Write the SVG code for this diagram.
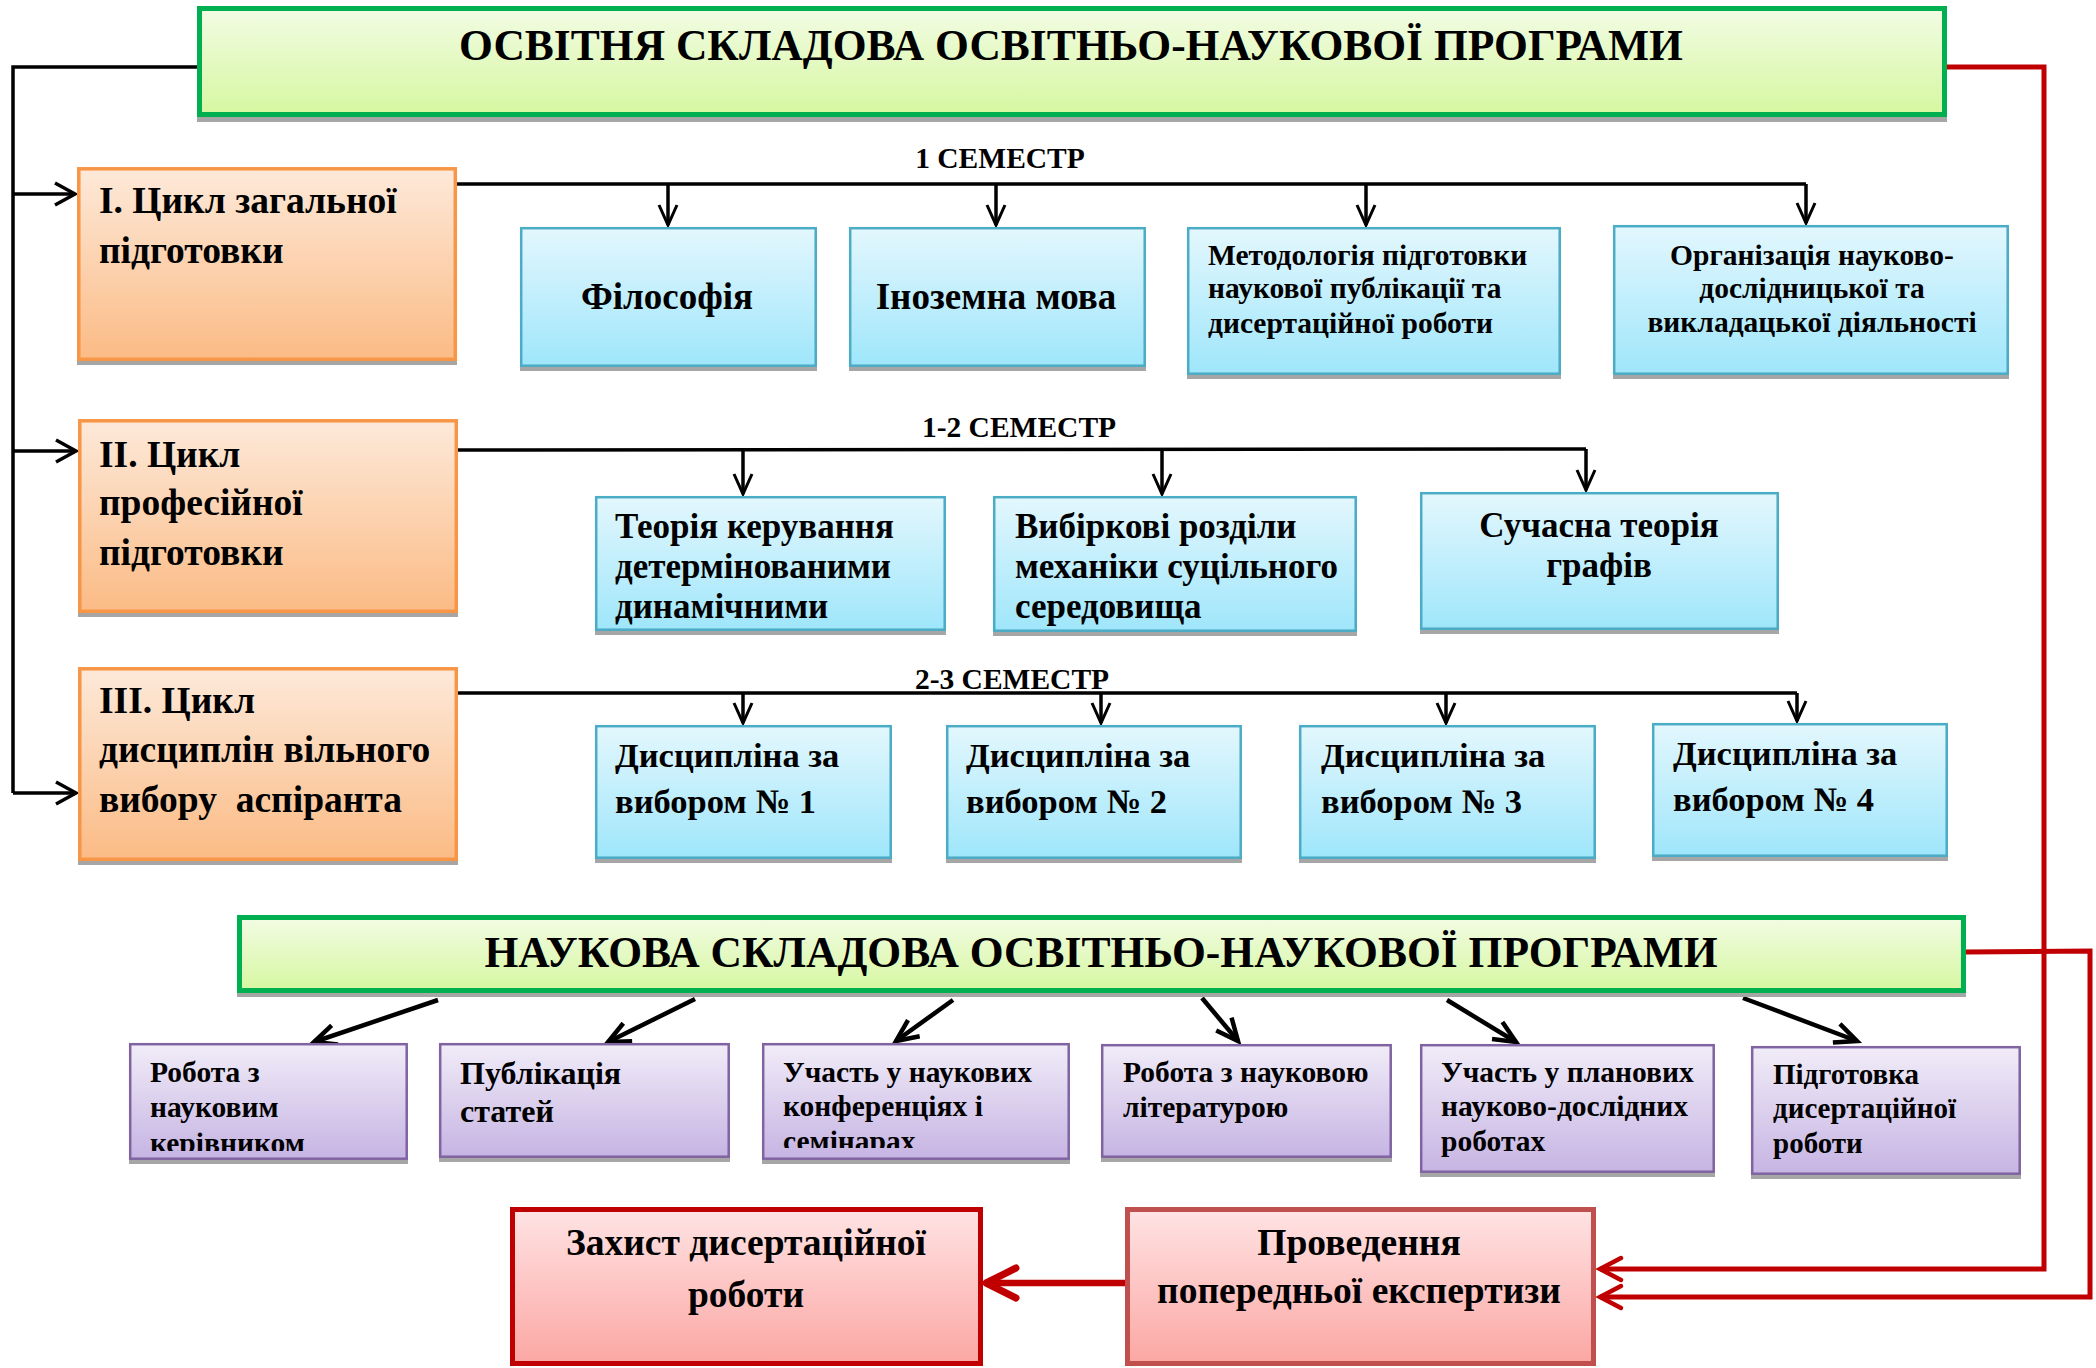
<svg xmlns="http://www.w3.org/2000/svg" width="2096" height="1368" viewBox="0 0 2096 1368">
<style>
.t{font-family:"Liberation Serif","Times New Roman",serif;font-weight:bold;fill:#000}
.sh{fill:#a6a6a6}
.g{fill:url(#gGreen);stroke:#00b050;stroke-width:5}
.o{fill:url(#gOrange);stroke:#f79646;stroke-width:3.5}
.b{fill:url(#gBlue);stroke:#4bacc6;stroke-width:2.5}
.p{fill:url(#gPurple);stroke:#8064a2;stroke-width:2.5}
.r1{fill:url(#gRed);stroke:#c00000;stroke-width:5}
.r2{fill:url(#gRed);stroke:#c0504d;stroke-width:5}
.ln{fill:none;stroke:#000;stroke-width:3.5}
.dg{fill:none;stroke:#000;stroke-width:4.5}
.rl{fill:none;stroke:#c00000;stroke-width:5}
.rt{fill:none;stroke:#c00000;stroke-width:6.5}
.fc{font-size:37.5px}
.fb1{font-size:29.5px}
.fb2{font-size:35px}
.fb3{font-size:34.5px}
.fp{font-size:29.5px}
.fs{font-size:29.5px}
.ft{font-size:43.5px}
.fr{font-size:37.5px}
</style>
<defs>
<linearGradient id="gGreen" x1="0" y1="0" x2="0" y2="1"><stop offset="0" stop-color="#f2fce4"/><stop offset="1" stop-color="#d6f7a0"/></linearGradient>
<linearGradient id="gOrange" x1="0" y1="0" x2="0" y2="1"><stop offset="0" stop-color="#fde9d9"/><stop offset="1" stop-color="#fbbb85"/></linearGradient>
<linearGradient id="gBlue" x1="0" y1="0" x2="0" y2="1"><stop offset="0" stop-color="#e3f7fd"/><stop offset="1" stop-color="#9fe6fb"/></linearGradient>
<linearGradient id="gPurple" x1="0" y1="0" x2="0" y2="1"><stop offset="0" stop-color="#f1ecf8"/><stop offset="1" stop-color="#c6b4e3"/></linearGradient>
<linearGradient id="gRed" x1="0" y1="0" x2="0" y2="1"><stop offset="0" stop-color="#ffe3e4"/><stop offset="1" stop-color="#fba7a3"/></linearGradient>
<marker id="aB" markerUnits="userSpaceOnUse" viewBox="-40 -20 44 40" markerWidth="44" markerHeight="40" refX="0" refY="0" orient="auto" overflow="visible"><path d="M-20,-9 L0,0 L-20,9" fill="none" stroke="#000" stroke-width="3"/></marker>
<marker id="aL" markerUnits="userSpaceOnUse" viewBox="-40 -20 44 40" markerWidth="44" markerHeight="40" refX="0" refY="0" orient="auto" overflow="visible"><path d="M-20,-11 L0,0 L-20,11" fill="none" stroke="#000" stroke-width="3.5"/></marker>
<marker id="aD" markerUnits="userSpaceOnUse" viewBox="-40 -20 44 40" markerWidth="44" markerHeight="40" refX="0" refY="0" orient="auto" overflow="visible"><path d="M-22,-10 L0,0 L-22,10" fill="none" stroke="#000" stroke-width="4.5"/></marker>
<marker id="aR" markerUnits="userSpaceOnUse" viewBox="-40 -20 44 40" markerWidth="44" markerHeight="40" refX="0" refY="0" orient="auto" overflow="visible"><path d="M-21,-11 L0,0 L-21,11" fill="none" stroke="#c00000" stroke-width="4.5" stroke-linecap="round"/></marker>
<marker id="aRT" markerUnits="userSpaceOnUse" viewBox="-40 -20 44 40" markerWidth="44" markerHeight="40" refX="0" refY="0" orient="auto" overflow="visible"><path d="M-30,-15 L0,0 L-30,15" fill="none" stroke="#c00000" stroke-width="7" stroke-linecap="round" stroke-linejoin="round"/></marker>
<clipPath id="cP1"><rect x="129" y="1043" width="279" height="108"/></clipPath>
<clipPath id="cP3"><rect x="762" y="1043" width="308" height="105"/></clipPath>
</defs>

<g id="connectors">
<polyline class="ln" points="197,67 13,67 13,793"/>
<line class="ln" x1="13" y1="194" x2="75" y2="194" marker-end="url(#aL)"/>
<line class="ln" x1="13" y1="451" x2="76" y2="451" marker-end="url(#aL)"/>
<line class="ln" x1="13" y1="793" x2="76" y2="793" marker-end="url(#aL)"/>
<polyline class="ln" points="457,184 1806,184"/>
<line class="ln" x1="668" y1="184" x2="668" y2="225" marker-end="url(#aB)"/>
<line class="ln" x1="996" y1="184" x2="996" y2="225" marker-end="url(#aB)"/>
<line class="ln" x1="1366" y1="184" x2="1366" y2="225" marker-end="url(#aB)"/>
<line class="ln" x1="1806" y1="184" x2="1806" y2="223" marker-end="url(#aB)"/>
<polyline class="ln" points="458,450 1586,449"/>
<line class="ln" x1="743" y1="450" x2="743" y2="494" marker-end="url(#aB)"/>
<line class="ln" x1="1162" y1="449" x2="1162" y2="494" marker-end="url(#aB)"/>
<line class="ln" x1="1586" y1="449" x2="1586" y2="490" marker-end="url(#aB)"/>
<polyline class="ln" points="458,693 1797,693"/>
<line class="ln" x1="743" y1="693" x2="743" y2="723" marker-end="url(#aB)"/>
<line class="ln" x1="1101" y1="693" x2="1101" y2="723" marker-end="url(#aB)"/>
<line class="ln" x1="1446" y1="693" x2="1446" y2="723" marker-end="url(#aB)"/>
<line class="ln" x1="1797" y1="693" x2="1797" y2="721" marker-end="url(#aB)"/>
<line class="dg" x1="438" y1="1000" x2="314" y2="1042" marker-end="url(#aD)"/>
<line class="dg" x1="695" y1="999" x2="608" y2="1042" marker-end="url(#aD)"/>
<line class="dg" x1="953" y1="1000" x2="896" y2="1041" marker-end="url(#aD)"/>
<line class="dg" x1="1202" y1="998" x2="1238" y2="1041" marker-end="url(#aD)"/>
<line class="dg" x1="1447" y1="1000" x2="1516" y2="1042" marker-end="url(#aD)"/>
<line class="dg" x1="1743" y1="998" x2="1857" y2="1041" marker-end="url(#aD)"/>
<polyline class="rl" points="1947,67 2044,67 2044,1269 1600,1269" marker-end="url(#aR)"/>
<polyline class="rl" points="1966,952 2090,951 2090,1297 1600,1297" marker-end="url(#aR)"/>
<line class="rt" x1="1125" y1="1283" x2="986" y2="1283" marker-end="url(#aRT)"/>
</g>

<g id="title-edu">
<rect class="sh" x="197" y="11" width="1750" height="111"/>
<rect class="g" x="199.5" y="8.5" width="1745" height="106"/>
<text class="t ft" x="1071" y="60" text-anchor="middle">ОСВІТНЯ СКЛАДОВА ОСВІТНЬО-НАУКОВОЇ ПРОГРАМИ</text>
</g>

<g id="cycle-1">
<rect class="sh" x="77" y="171" width="380" height="194"/>
<rect class="o" x="78.8" y="168.8" width="376.5" height="190.5"/>
<text class="t fc" x="99" y="213">І. Цикл загальної</text>
<text class="t fc" x="99" y="263">підготовки</text>
</g>
<g id="cycle-2">
<rect class="sh" x="78" y="423" width="380" height="194"/>
<rect class="o" x="79.8" y="420.8" width="376.5" height="190.5"/>
<text class="t fc" x="99" y="467">ІІ. Цикл</text>
<text class="t fc" x="99" y="515">професійної</text>
<text class="t fc" x="99" y="565">підготовки</text>
</g>
<g id="cycle-3">
<rect class="sh" x="78" y="671" width="380" height="194"/>
<rect class="o" x="79.8" y="668.8" width="376.5" height="190.5"/>
<text class="t fc" x="99" y="713">ІІІ. Цикл</text>
<text class="t fc" x="99" y="762">дисциплін вільного</text>
<text class="t fc" x="99" y="812" xml:space="preserve">вибору  аспіранта</text>
</g>

<text id="sem-1" class="t fs" x="1000" y="168" text-anchor="middle">1 СЕМЕСТР</text>
<text id="sem-2" class="t fs" x="1019" y="437" text-anchor="middle">1-2 СЕМЕСТР</text>
<text id="sem-3" class="t fs" x="1012" y="689" text-anchor="middle">2-3 СЕМЕСТР</text>

<g id="philosophy">
<rect class="sh" x="520" y="231" width="297" height="140"/>
<rect class="b" x="521.2" y="228.2" width="294.5" height="137.5"/>
<text class="t" x="667" y="309" font-size="37" text-anchor="middle">Філософія</text>
</g>
<g id="foreign-lang">
<rect class="sh" x="849" y="231" width="297" height="140"/>
<rect class="b" x="850.2" y="228.2" width="294.5" height="137.5"/>
<text class="t" x="996" y="309" font-size="37" text-anchor="middle">Іноземна мова</text>
</g>
<g id="methodology">
<rect class="sh" x="1187" y="231" width="374" height="148"/>
<rect class="b" x="1188.2" y="228.2" width="371.5" height="145.5"/>
<text class="t fb1" x="1208" y="265">Методологія підготовки</text>
<text class="t fb1" x="1208" y="298">наукової публікації та</text>
<text class="t fb1" x="1208" y="333">дисертаційної роботи</text>
</g>
<g id="organization">
<rect class="sh" x="1613" y="229" width="396" height="150"/>
<rect class="b" x="1614.2" y="226.2" width="393.5" height="147.5"/>
<text class="t fb1" x="1812" y="265" text-anchor="middle">Організація науково-</text>
<text class="t fb1" x="1812" y="298" text-anchor="middle">дослідницької та</text>
<text class="t fb1" x="1812" y="332" text-anchor="middle">викладацької діяльності</text>
</g>

<g id="control-theory">
<rect class="sh" x="595" y="500" width="351" height="135"/>
<rect class="b" x="596.2" y="497.2" width="348.5" height="132.5"/>
<text class="t fb2" x="615" y="538">Теорія керування</text>
<text class="t fb2" x="615" y="578">детермінованими</text>
<text class="t fb2" x="615" y="618">динамічними</text>
</g>
<g id="continuum">
<rect class="sh" x="993" y="500" width="364" height="136"/>
<rect class="b" x="994.2" y="497.2" width="361.5" height="133.5"/>
<text class="t fb2" x="1015" y="538">Вибіркові розділи</text>
<text class="t fb2" x="1015" y="578">механіки суцільного</text>
<text class="t fb2" x="1015" y="618">середовища</text>
</g>
<g id="graphs">
<rect class="sh" x="1420" y="496" width="359" height="138"/>
<rect class="b" x="1421.2" y="493.2" width="356.5" height="135.5"/>
<text class="t fb2" x="1599" y="537" text-anchor="middle">Сучасна теорія</text>
<text class="t fb2" x="1599" y="577" text-anchor="middle">графів</text>
</g>

<g id="elective-1">
<rect class="sh" x="595" y="729" width="297" height="134"/>
<rect class="b" x="596.2" y="726.2" width="294.5" height="131.5"/>
<text class="t fb3" x="615" y="767">Дисципліна за</text>
<text class="t fb3" x="615" y="813">вибором № 1</text>
</g>
<g id="elective-2">
<rect class="sh" x="946" y="729" width="296" height="134"/>
<rect class="b" x="947.2" y="726.2" width="293.5" height="131.5"/>
<text class="t fb3" x="966" y="767">Дисципліна за</text>
<text class="t fb3" x="966" y="813">вибором № 2</text>
</g>
<g id="elective-3">
<rect class="sh" x="1299" y="729" width="297" height="134"/>
<rect class="b" x="1300.2" y="726.2" width="294.5" height="131.5"/>
<text class="t fb3" x="1321" y="767">Дисципліна за</text>
<text class="t fb3" x="1321" y="813">вибором № 3</text>
</g>
<g id="elective-4">
<rect class="sh" x="1652" y="727" width="296" height="134"/>
<rect class="b" x="1653.2" y="724.2" width="293.5" height="131.5"/>
<text class="t fb3" x="1673" y="765">Дисципліна за</text>
<text class="t fb3" x="1673" y="811">вибором № 4</text>
</g>

<g id="title-sci">
<rect class="sh" x="237" y="919" width="1729" height="78"/>
<rect class="g" x="239.5" y="917.5" width="1724" height="73"/>
<text class="t ft" x="1101" y="967" text-anchor="middle">НАУКОВА СКЛАДОВА ОСВІТНЬО-НАУКОВОЇ ПРОГРАМИ</text>
</g>

<g id="sci-1">
<rect class="sh" x="129" y="1047" width="279" height="117"/>
<rect class="p" x="130.2" y="1044.2" width="276.5" height="114.5"/>
<g clip-path="url(#cP1)">
<text class="t fp" x="150" y="1082">Робота з</text>
<text class="t fp" x="150" y="1117">науковим</text>
<text class="t fp" x="150" y="1153">керівником</text>
</g>
</g>
<g id="sci-2">
<rect class="sh" x="439" y="1047" width="291" height="115"/>
<rect class="p" x="440.2" y="1044.2" width="288.5" height="112.5"/>
<text class="t" x="460" y="1084" font-size="32">Публікація</text>
<text class="t" x="460" y="1122" font-size="32">статей</text>
</g>
<g id="sci-3">
<rect class="sh" x="762" y="1047" width="308" height="117"/>
<rect class="p" x="763.2" y="1044.2" width="305.5" height="114.5"/>
<g clip-path="url(#cP3)">
<text class="t fp" x="783" y="1082">Участь у наукових</text>
<text class="t fp" x="783" y="1116">конференціях і</text>
<text class="t fp" x="783" y="1151">семінарах</text>
</g>
</g>
<g id="sci-4">
<rect class="sh" x="1101" y="1048" width="291" height="114"/>
<rect class="p" x="1102.2" y="1045.2" width="288.5" height="111.5"/>
<text class="t fp" x="1123" y="1082">Робота з науковою</text>
<text class="t fp" x="1123" y="1117">літературою</text>
</g>
<g id="sci-5">
<rect class="sh" x="1420" y="1048" width="295" height="129"/>
<rect class="p" x="1421.2" y="1045.2" width="292.5" height="126.5"/>
<text class="t fp" x="1441" y="1082">Участь у планових</text>
<text class="t fp" x="1441" y="1116">науково-дослідних</text>
<text class="t fp" x="1441" y="1151">роботах</text>
</g>
<g id="sci-6">
<rect class="sh" x="1751" y="1050" width="270" height="129"/>
<rect class="p" x="1752.2" y="1047.2" width="267.5" height="126.5"/>
<text class="t" x="1773" y="1084" font-size="29">Підготовка</text>
<text class="t" x="1773" y="1118" font-size="29">дисертаційної</text>
<text class="t" x="1773" y="1153" font-size="29">роботи</text>
</g>

<g id="defense">
<rect class="r1" x="512.5" y="1209.5" width="468" height="154"/>
<text class="t fr" x="746" y="1255" text-anchor="middle">Захист дисертаційної</text>
<text class="t fr" x="746" y="1307" text-anchor="middle">роботи</text>
</g>
<g id="pre-expertise">
<rect class="r2" x="1127.5" y="1209.5" width="466" height="154"/>
<text class="t fr" x="1359" y="1255" text-anchor="middle">Проведення</text>
<text class="t fr" x="1359" y="1303" text-anchor="middle">попередньої експертизи</text>
</g>
</svg>
